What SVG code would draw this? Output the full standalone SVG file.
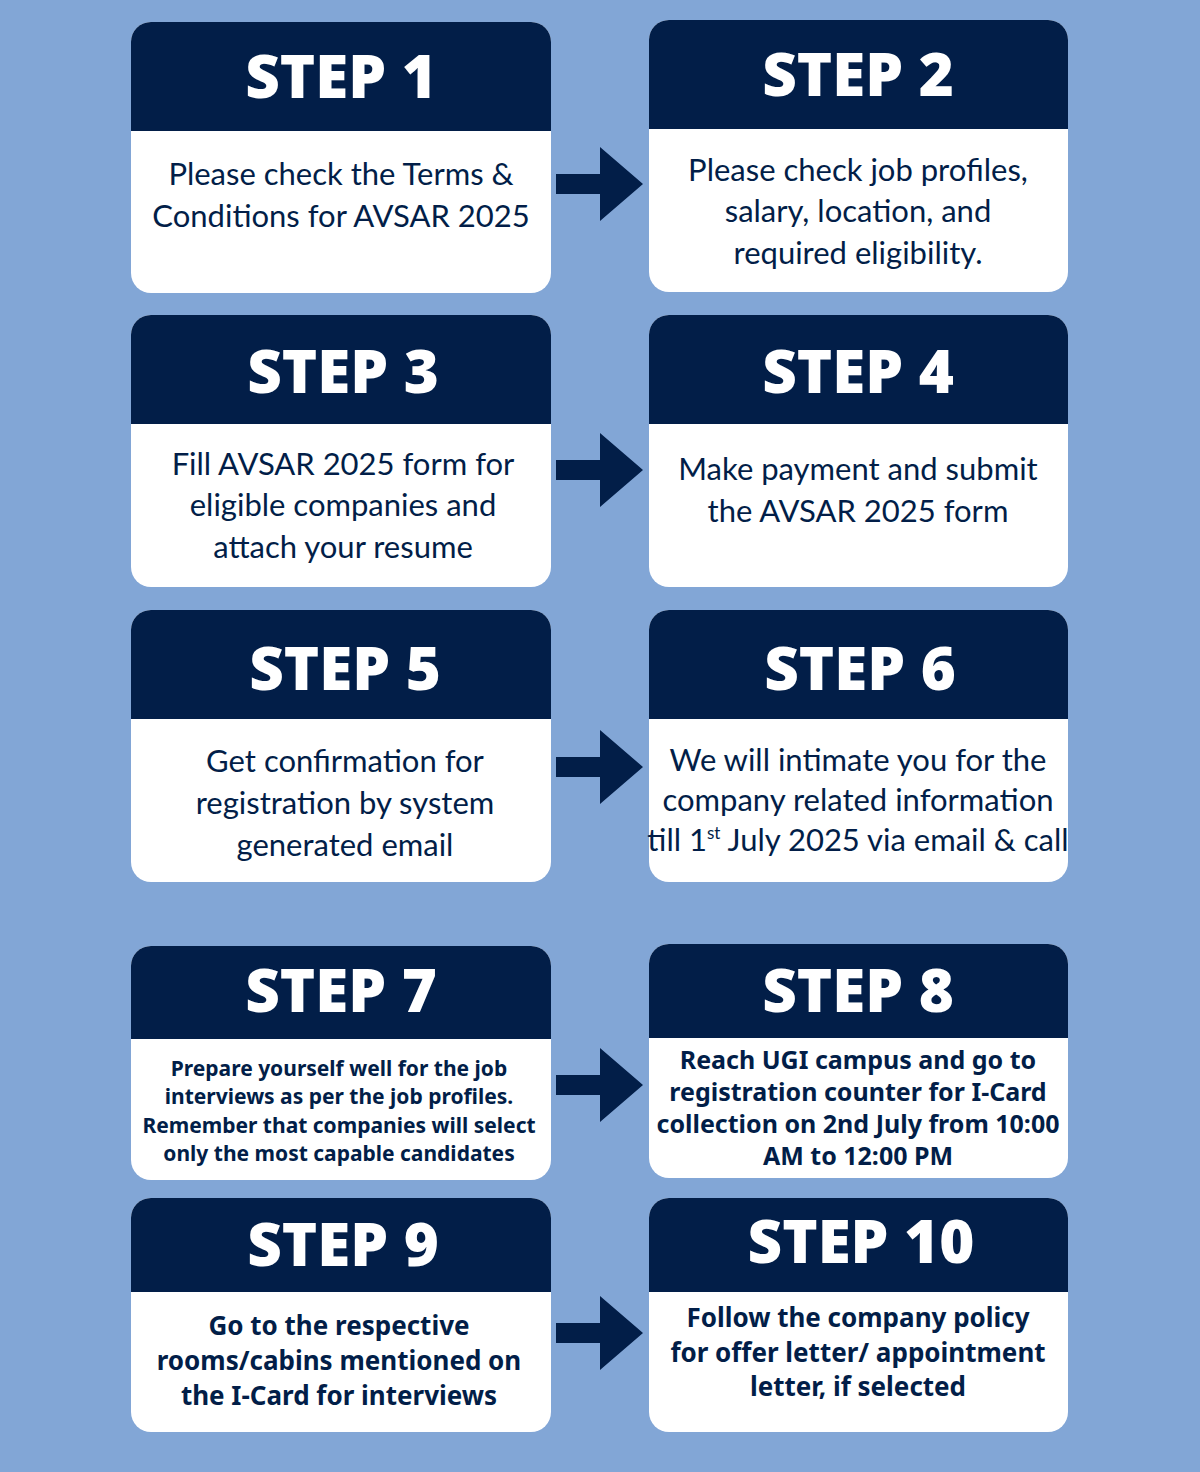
<svg xmlns="http://www.w3.org/2000/svg" width="1200" height="1472" viewBox="0 0 1200 1472">
<style>
.card{fill:#fff}.hd{fill:#021E48}
.st{font-family:"Open Sans",sans-serif;font-weight:800;font-size:60px;fill:#fff;text-anchor:middle}
.b{font-family:Lato,"Noto Sans",sans-serif;font-size:31px;fill:#021E48;text-anchor:middle}
.bb{font-family:"Noto Sans",sans-serif;font-weight:700;fill:#021E48;text-anchor:middle}
.ar{fill:#021E48}
</style>
<defs>
<path id="arr" d="M0,-10 H44 V-37 L87,0 L44,37 V10 H0 Z"/>
</defs>
<rect width="1200" height="1472" fill="#82A6D6"/>
<g id="step1"><rect class="card" x="131" y="22" width="420" height="271" rx="20"/><path class="hd" d="M131,131 V42 a20,20 0 0 1 20,-20 H531 a20,20 0 0 1 20,20 V131 Z"/>
<text class="st" x="341" y="98">STEP 1</text><text class="b" x="341" y="185">Please check the Terms &amp;</text><text class="b" x="341" y="227">Conditions for AVSAR 2025</text></g>
<g id="step2"><rect class="card" x="649" y="20" width="419" height="272" rx="20"/><path class="hd" d="M649,129 V40 a20,20 0 0 1 20,-20 H1048 a20,20 0 0 1 20,20 V129 Z"/>
<text class="st" x="858" y="96">STEP 2</text><text class="b" x="858" y="181">Please check job profiles,</text><text class="b" x="858" y="222">salary, location, and</text><text class="b" x="858" y="264">required eligibility.</text></g>
<g id="step3"><rect class="card" x="131" y="315" width="420" height="272" rx="20"/><path class="hd" d="M131,424 V335 a20,20 0 0 1 20,-20 H531 a20,20 0 0 1 20,20 V424 Z"/>
<text class="st" x="343" y="393">STEP 3</text><text class="b" x="343" y="475">Fill AVSAR 2025 form for</text><text class="b" x="343" y="516">eligible companies and</text><text class="b" x="343" y="558">attach your resume</text></g>
<g id="step4"><rect class="card" x="649" y="315" width="419" height="272" rx="20"/><path class="hd" d="M649,424 V335 a20,20 0 0 1 20,-20 H1048 a20,20 0 0 1 20,20 V424 Z"/>
<text class="st" x="858" y="393">STEP 4</text><text class="b" x="858" y="480">Make payment and submit</text><text class="b" x="858" y="522">the AVSAR 2025 form</text></g>
<g id="step5"><rect class="card" x="131" y="610" width="420" height="272" rx="20"/><path class="hd" d="M131,719 V630 a20,20 0 0 1 20,-20 H531 a20,20 0 0 1 20,20 V719 Z"/>
<text class="st" x="345" y="690">STEP 5</text><text class="b" x="345" y="772">Get confirmation for</text><text class="b" x="345" y="814">registration by system</text><text class="b" x="345" y="856">generated email</text></g>
<g id="step6"><rect class="card" x="649" y="610" width="419" height="272" rx="20"/><path class="hd" d="M649,719 V630 a20,20 0 0 1 20,-20 H1048 a20,20 0 0 1 20,20 V719 Z"/>
<text class="st" x="860" y="690">STEP 6</text><text class="b" x="858" y="771" font-size="30">We will intimate you for the</text><text class="b" x="858" y="811" font-size="30">company related information</text><text class="b" x="858" y="851" font-size="30">till 1<tspan font-size="17" dy="-12">st</tspan><tspan dy="12"> July 2025 via email &amp; call</tspan></text></g>
<g id="step7"><rect class="card" x="131" y="946" width="420" height="234" rx="20"/><path class="hd" d="M131,1039 V966 a20,20 0 0 1 20,-20 H531 a20,20 0 0 1 20,20 V1039 Z"/>
<text class="st" x="341" y="1012">STEP 7</text><text class="bb" font-size="21" x="339" y="1076">Prepare yourself well for the job</text><text class="bb" font-size="21" x="339" y="1104">interviews as per the job profiles.</text><text class="bb" font-size="21" x="339" y="1133">Remember that  companies will select</text><text class="bb" font-size="21" x="339" y="1161">only the most capable candidates</text></g>
<g id="step8"><rect class="card" x="649" y="944" width="419" height="234" rx="20"/><path class="hd" d="M649,1038 V964 a20,20 0 0 1 20,-20 H1048 a20,20 0 0 1 20,20 V1038 Z"/>
<text class="st" x="858" y="1012">STEP 8</text><text class="bb" font-size="25" x="858" y="1069">Reach UGI campus and go to</text><text class="bb" font-size="25" x="858" y="1101">registration counter for I-Card</text><text class="bb" font-size="25" x="858" y="1133">collection on 2nd July from 10:00</text><text class="bb" font-size="25" x="858" y="1165">AM to 12:00 PM</text></g>
<g id="step9"><rect class="card" x="131" y="1198" width="420" height="234" rx="20"/><path class="hd" d="M131,1292 V1218 a20,20 0 0 1 20,-20 H531 a20,20 0 0 1 20,20 V1292 Z"/>
<text class="st" x="343" y="1266">STEP 9</text><text class="bb" font-size="26" x="339" y="1335">Go to the respective</text><text class="bb" font-size="26" x="339" y="1370">rooms/cabins mentioned on</text><text class="bb" font-size="26" x="339" y="1405">the I-Card for interviews</text></g>
<g id="step10"><rect class="card" x="649" y="1198" width="419" height="234" rx="20"/><path class="hd" d="M649,1292 V1218 a20,20 0 0 1 20,-20 H1048 a20,20 0 0 1 20,20 V1292 Z"/>
<text class="st" x="861" y="1263">STEP 10</text><text class="bb" font-size="26" x="858" y="1327">Follow the company policy</text><text class="bb" font-size="26" x="858" y="1362">for offer letter/ appointment</text><text class="bb" font-size="26" x="858" y="1396">letter, if selected</text></g>
<g id="connectors" class="ar">
<use href="#arr" x="556" y="184"/><use href="#arr" x="556" y="470"/><use href="#arr" x="556" y="767"/><use href="#arr" x="556" y="1085"/><use href="#arr" x="556" y="1333"/>
</g>
</svg>
